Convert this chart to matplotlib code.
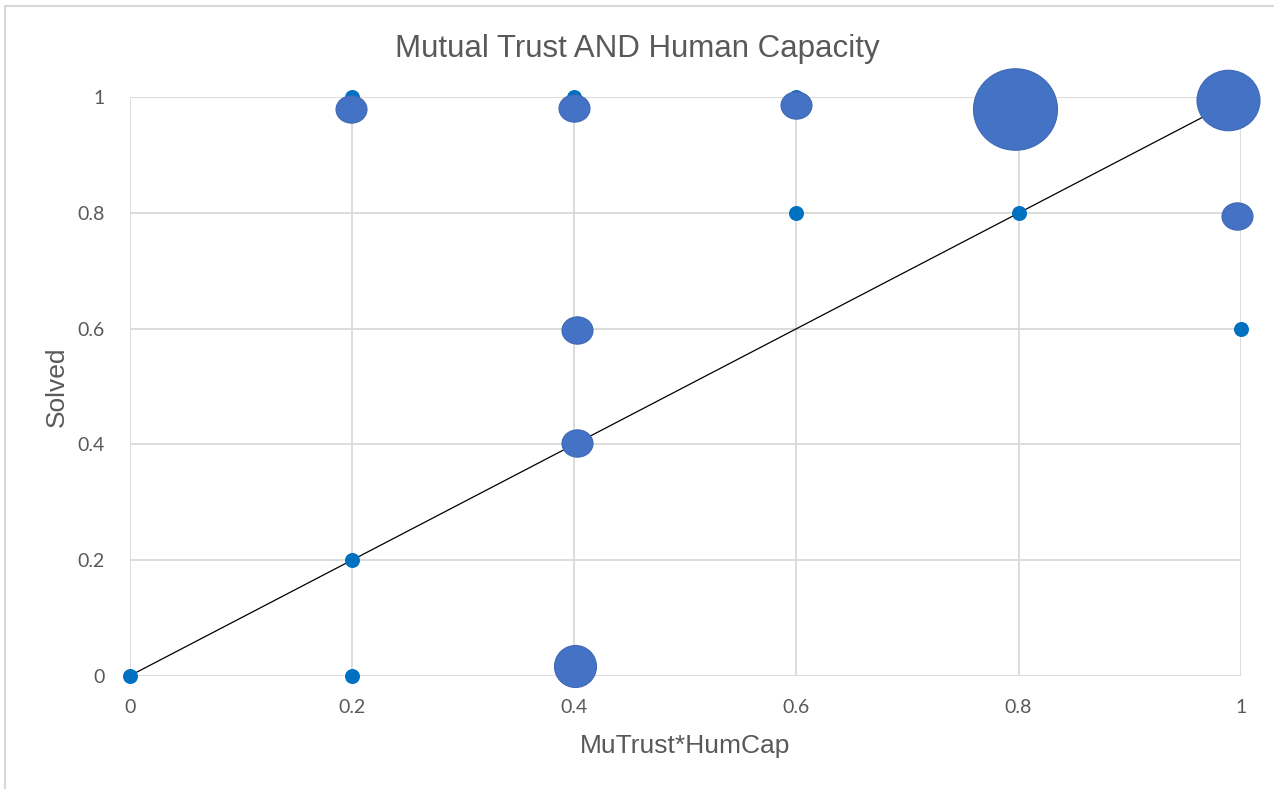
import matplotlib
matplotlib.use("Agg")
import matplotlib.pyplot as plt
from matplotlib.path import Path
from matplotlib.transforms import Affine2D
from matplotlib.patches import Rectangle

# small observation dots
dot_x = [0, 0.2, 0.2, 0.2, 0.4, 0.6, 0.6, 0.8, 1.0]
dot_y = [0, 0, 0.2, 1.0, 1.0, 1.0, 0.8, 0.8, 0.6]

# bubbles (slightly jittered positions, relative size)
bub_x = [0.199, 0.3997, 0.5994, 0.7968, 0.9886, 0.9969, 0.4022, 0.4022, 0.4006]
bub_y = [0.980, 0.9816, 0.987, 0.980, 0.9953, 0.795, 0.5973, 0.403, 0.016]
bub_n = [1, 1, 1, 4, 3, 1, 1, 1, 2]

fit_x = [0, 1]
fit_y = [0, 1]

ticks = [0, 0.2, 0.4, 0.6, 0.8, 1]
tick_labels = ["0", "0.2", "0.4", "0.6", "0.8", "1"]

grey = "#595959"

fig = plt.figure(figsize=(12.74, 7.89), dpi=100)
fig.patches.append(Rectangle((5 / 1274, -0.1), 1.2, 1 - 6 / 789 + 0.1,
                             transform=fig.transFigure, fill=False,
                             edgecolor="#D9D9D9", linewidth=1.5))

ax = fig.add_axes([130 / 1274, (789 - 675.7) / 789,
                   (1240.7 - 130) / 1274, (675.7 - 97.4) / 789])
ax.set_xlim(0, 1)
ax.set_ylim(0, 1)
for s in ax.spines.values():
    s.set_visible(False)
ax.set_xticks(ticks)
ax.set_yticks(ticks)
ax.set_xticklabels(tick_labels)
ax.set_yticklabels(tick_labels)
ax.tick_params(length=0, labelsize=14, labelcolor=grey)
ax.tick_params(axis="x", pad=17)
ax.tick_params(axis="y", pad=18)
for lab in ax.get_xticklabels() + ax.get_yticklabels():
    lab.set_family("Lato")
ax.grid(True, color="#D9D9D9", linewidth=1.3, zorder=0)
ax.set_axisbelow(True)

ax.plot(fit_x, fit_y, color="black", linewidth=0.9, zorder=2)

ax.plot(dot_x, dot_y, "o", color="#0070C0", markersize=10.8,
        markeredgewidth=0, zorder=3, clip_on=False)

# diameters in px for bubble sizes, slightly squashed ellipse for small ones
diam = {1: 31, 2: 42, 3: 63, 4: 84}
aspect = {1: 0.88, 2: 1.0, 3: 0.96, 4: 0.97}
for x, y, n in zip(bub_x, bub_y, bub_n):
    circ = Path.unit_circle()
    ell = circ.transformed(Affine2D().scale(1, aspect[n]))
    ax.plot([x], [y], marker=ell, color="#4472C4", markersize=diam[n] * 0.72,
            markeredgecolor="#3F68B5", markeredgewidth=0.8, zorder=4,
            clip_on=False)

fig.text(0.5, 1 - 49 / 789, "Mutual Trust AND Human Capacity", ha="center",
         va="center", fontsize=22.5, color=grey, family="Liberation Sans")
ax.set_xlabel("MuTrust*HumCap", fontsize=19, color=grey,
              family="Liberation Sans", labelpad=13)
ax.set_ylabel("Solved", fontsize=19, color=grey,
              family="Liberation Sans", labelpad=6)

fig.savefig("out.png", dpi=100)
